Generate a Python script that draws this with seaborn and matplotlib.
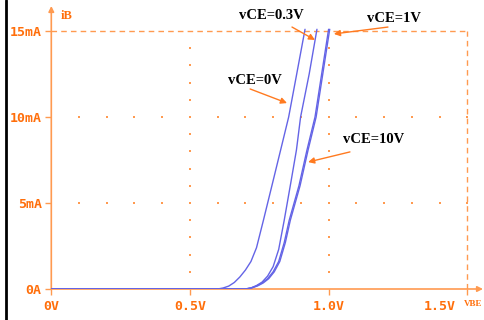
import numpy as np
import pandas as pd
import matplotlib
matplotlib.use("Agg")
import matplotlib.pyplot as plt
from matplotlib.lines import Line2D
import matplotlib.transforms as mtrans
import seaborn as sns

# ---- data ----
vbe_0 = [0.0, 0.60, 0.62, 0.64, 0.66, 0.68, 0.70, 0.72, 0.74, 0.765, 0.80, 0.827, 0.856, 0.885, 0.915]
ib_0 = [0.0, 0.0, 0.06, 0.17, 0.38, 0.7, 1.1, 1.6, 2.4, 4.0, 6.3, 8.08, 10.0, 12.5, 15.1]
vbe_03 = [0.0, 0.70, 0.72, 0.74, 0.76, 0.78, 0.80, 0.82, 0.84, 0.865, 0.884, 0.899, 0.93, 0.958]
ib_03 = [0.0, 0.0, 0.06, 0.2, 0.4, 0.75, 1.3, 2.3, 4.0, 6.3, 8.08, 10.0, 12.5, 15.1]
vbe_1 = [0.0, 0.70, 0.72, 0.74, 0.76, 0.78, 0.80, 0.82, 0.84, 0.858, 0.893, 0.922, 0.951, 0.975, 1.0]
ib_1 = [0.0, 0.0, 0.06, 0.18, 0.35, 0.6, 1.0, 1.6, 2.7, 4.0, 6.0, 8.08, 10.0, 12.5, 15.1]
vbe_10 = [0.0, 0.70, 0.723, 0.744, 0.764, 0.784, 0.804, 0.824, 0.844, 0.862, 0.897, 0.926, 0.955, 0.979, 1.004]
ib_10 = [0.0, 0.0, 0.06, 0.18, 0.35, 0.6, 1.0, 1.6, 2.7, 4.0, 6.0, 8.08, 10.0, 12.5, 15.1]

y_ticks = [0, 5, 10, 15]
y_tick_labels = ["0A", "5mA", "10mA", "15mA"]
x_ticks = [0.0, 0.5, 1.0, 1.5]
x_tick_labels = ["0V", "0.5V", "1.0V", ""]

labels = ["vCE=0V", "vCE=0.3V", "vCE=1V", "vCE=10V"]

frames = []
for name, xs, ys in [("vCE=0V", vbe_0, ib_0), ("vCE=0.3V", vbe_03, ib_03),
                     ("vCE=1V", vbe_1, ib_1), ("vCE=10V", vbe_10, ib_10)]:
    frames.append(pd.DataFrame({"vbe": xs, "ib": ys, "curve": name}))
df = pd.concat(frames, ignore_index=True)

sns.set_style("white")
ORANGE = "#FF9A50"
ORANGE_TXT = "#FF6E0A"
ORANGE_ARR = "#FF7A20"
BLUE = "#6464E6"

fig = plt.figure(figsize=(4.84, 3.20), dpi=100)
fig.patch.set_facecolor("white")
ax = fig.add_axes([51.3 / 484, (320 - 289) / 320, (483 - 51.3) / 484, (289 - 6) / 320])
ax.set_facecolor("white")

xmax = (483 - 51.3) / 277.3
ymax = (289 - 6) / 17.2
ax.set_xlim(0, xmax)
ax.set_ylim(0, ymax)
for s in ax.spines.values():
    s.set_visible(False)

# grid dots
gx = np.round(np.arange(0.1, 1.51, 0.1), 2)
for yv in [5, 10]:
    ax.scatter(gx, [yv] * len(gx), s=1.2, marker="s", color=ORANGE, linewidths=0, zorder=1)
gy = np.arange(1, 15, 1)
for xv in [0.5, 1.0]:
    ax.scatter([xv] * len(gy), gy, s=1.2, marker="s", color=ORANGE, linewidths=0, zorder=1)

# dashed limit box
ax.plot([0, 1.5], [15, 15], color=ORANGE, lw=1.0, ls=(0, (4, 3)), zorder=1)
ax.plot([1.5, 1.5], [0, 15], color=ORANGE, lw=1.0, ls=(0, (4, 3)), zorder=1)

# axes with arrows
ax.annotate("", xy=(0, ymax), xytext=(0, 0),
            arrowprops=dict(arrowstyle="-|>", color=ORANGE, lw=1.2, mutation_scale=8,
                            shrinkA=0, shrinkB=0), annotation_clip=False, zorder=2)
ax.annotate("", xy=(xmax, 0), xytext=(0, 0),
            arrowprops=dict(arrowstyle="-|>", color=ORANGE, lw=1.2, mutation_scale=8,
                            shrinkA=0, shrinkB=0), annotation_clip=False, zorder=2)

# curves
for name in labels:
    sub = df[df["curve"] == name]
    sns.lineplot(data=sub, x="vbe", y="ib", ax=ax, color=BLUE, lw=1.0,
                 sort=False, estimator=None, legend=False, zorder=3)
ax.set_xlabel("")
ax.set_ylabel("")

# ticks
mono = "DejaVu Sans Mono"
ax.set_yticks(y_ticks)
ax.set_yticklabels(y_tick_labels, color=ORANGE_TXT, fontfamily=mono,
                   fontweight="bold", fontsize=9.5)
ax.set_xticks(x_ticks)
ax.set_xticklabels(x_tick_labels, color=ORANGE_TXT, fontfamily=mono,
                   fontweight="bold", fontsize=9.5)
ax.tick_params(axis="y", length=4, width=1, color=ORANGE, pad=3, left=True)
ax.tick_params(axis="x", length=4, width=1, color=ORANGE, pad=4, bottom=True)

below = ax.transData + mtrans.ScaledTranslation(0, -8 / 72, fig.dpi_scale_trans)
ax.text(1.402, 0, "1.5V", color=ORANGE_TXT, fontfamily=mono, fontweight="bold",
        fontsize=9.5, ha="center", va="top", transform=below)
ax.text(xmax - 0.004, 0, "VBE", color=ORANGE_TXT, fontfamily="Liberation Serif", fontweight="bold",
        fontsize=6.5, ha="right", va="top", transform=below)
ax.text(0.055, 15.87, "iB", color=ORANGE_TXT, fontfamily="Liberation Serif", fontweight="bold",
        fontsize=9, ha="center", va="center")

# annotations
ann = [
    ("vCE=0.3V", (0.792, 15.93), (0.868, 15.23), (0.951, 14.48)),
    ("vCE=1V", (1.236, 15.70), (1.214, 15.23), (1.019, 14.83)),
    ("vCE=0V", (0.735, 12.15), (0.717, 11.63), (0.850, 10.81)),
    ("vCE=10V", (1.164, 8.72), (1.077, 7.97), (0.926, 7.38)),
]
for txt, tpos, a0, a1 in ann:
    ax.text(tpos[0], tpos[1], txt, color="black", fontfamily="Liberation Serif",
            fontweight="bold", fontsize=10.5, ha="center", va="center", zorder=5)
    ax.annotate("", xy=a1, xytext=a0,
                arrowprops=dict(arrowstyle="-|>", color=ORANGE_ARR, lw=1.0,
                                mutation_scale=9, shrinkA=0, shrinkB=0), zorder=5)

# left black border
fig.add_artist(Line2D([6 / 484, 6 / 484], [0, 1], color="black", lw=2,
                      transform=fig.transFigure))

fig.savefig("out.png", dpi=100)
